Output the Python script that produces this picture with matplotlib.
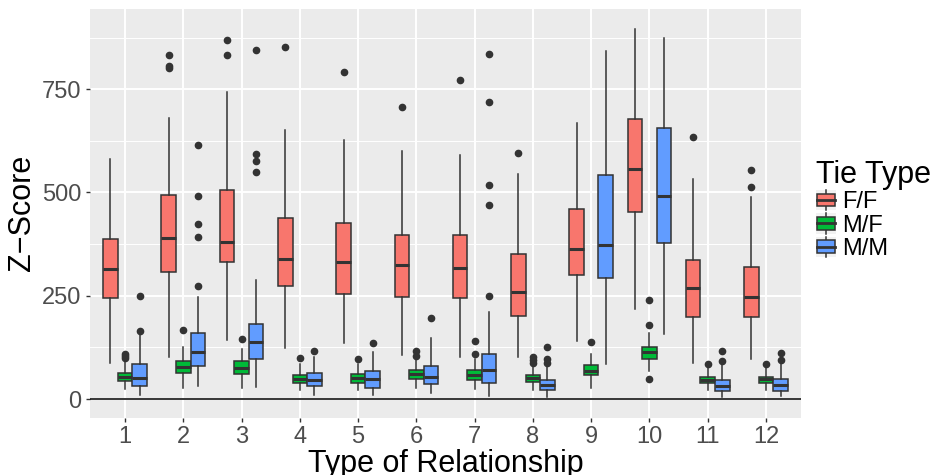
import matplotlib.pyplot as plt
from matplotlib.patches import Patch, Rectangle
from matplotlib.lines import Line2D
from matplotlib.legend_handler import HandlerBase

plt.rcParams['font.family'] = ['Liberation Sans', 'DejaVu Sans']

# Relationship types on the x axis
groups = ['1', '2', '3', '4', '5', '6', '7', '8', '9', '10', '11', '12']
tie_types = ['F/F', 'M/F', 'M/M']
colors = ['#F8766D', '#00BA38', '#619CFF']

# F/F summary stats
ff_whislo = [88, 102, 143, 123, 135, 107, 102, 101, 141, 217, 88, 96]
ff_q1 = [244, 307, 332, 273, 254, 247, 244, 202, 301, 452, 199, 198]
ff_med = [315, 390, 380, 339, 332, 324, 318, 259, 364, 557, 268, 247]
ff_q3 = [388, 494, 507, 439, 427, 398, 398, 352, 460, 678, 337, 320]
ff_whishi = [580, 681, 743, 650, 626, 600, 591, 544, 669, 895, 532, 490]
ff_out = [[], [801, 806, 832], [832, 870], [851], [792], [706], [772], [596],
          [], [], [635], [514, 555]]

# M/F summary stats
mf_whislo = [24, 27, 26, 23, 22, 27, 25, 22, 26, 68, 21, 22]
mf_q1 = [44, 63, 61, 39, 40, 48, 47, 41, 58, 98, 38, 38]
mf_med = [54, 78, 76, 49, 51, 60, 59, 50, 68, 113, 46, 48]
mf_q3 = [64, 93, 93, 59, 60, 70, 71, 59, 82, 127, 53, 54]
mf_whishi = [90, 125, 122, 86, 85, 96, 98, 82, 110, 159, 77, 78]
mf_out = [[99, 104, 109], [168], [146], [99], [98], [104, 117], [109, 140],
          [88, 95, 102], [138], [48, 179, 241], [85], [86]]

# M/M summary stats
mm_whislo = [10, 32, 30, 10, 10, 14, 8, 6, 86, 157, 6, 7]
mm_q1 = [31, 81, 98, 31, 27, 36, 40, 22, 293, 378, 19, 19]
mm_med = [52, 113, 137, 47, 48, 53, 70, 34, 373, 492, 32, 34]
mm_q3 = [84, 159, 181, 64, 69, 81, 110, 47, 542, 655, 47, 48]
mm_whishi = [155, 247, 288, 101, 115, 147, 211, 82, 843, 874, 82, 86]
mm_out = [[166, 250], [274, 392, 423, 491, 614], [550, 576, 592, 845], [117],
          [136], [196], [250, 470, 517, 718, 835], [88, 96, 125], [], [],
          [92, 117], [94, 111]]

series = [
    (ff_whislo, ff_q1, ff_med, ff_q3, ff_whishi, ff_out),
    (mf_whislo, mf_q1, mf_med, mf_q3, mf_whishi, mf_out),
    (mm_whislo, mm_q1, mm_med, mm_q3, mm_whishi, mm_out),
]

edge = '#333333'

fig = plt.figure(figsize=(9.4, 4.75), dpi=100)
ax = fig.add_axes([90 / 940, 1 - 417.7 / 475, 711 / 940, 408.7 / 475])
ax.set_facecolor('#EBEBEB')

# grid
for y in [125, 375, 625, 875]:
    ax.axhline(y, color='white', lw=0.7, zorder=0)
for y in [0, 250, 500, 750]:
    ax.axhline(y, color='white', lw=1.4, zorder=0)
for x in range(1, len(groups) + 1):
    ax.axvline(x, color='white', lw=1.4, zorder=0)

offsets = [-0.25, 0, 0.25]
for k, (lo, q1, med, q3, hi, out) in enumerate(series):
    stats = []
    for i in range(len(groups)):
        stats.append(dict(whislo=lo[i], q1=q1[i], med=med[i], q3=q3[i],
                          whishi=hi[i], fliers=out[i]))
    pos = [i + 1 + offsets[k] for i in range(len(groups))]
    ax.bxp(stats, positions=pos, widths=0.25, patch_artist=True,
           showcaps=False, manage_ticks=False,
           boxprops=dict(facecolor=colors[k], edgecolor=edge, linewidth=1.1),
           medianprops=dict(color=edge, linewidth=2.2),
           whiskerprops=dict(color=edge, linewidth=1.1),
           flierprops=dict(marker='o', markerfacecolor=edge, markeredgecolor=edge,
                           markersize=4.5))

ax.axhline(0, color='black', lw=1.1, zorder=3)

ax.set_xlim(0.4, 12.6)
ax.set_ylim(-45, 944)
ax.set_xticks(range(1, len(groups) + 1))
ax.set_xticklabels(groups)
ax.set_yticks([0, 250, 500, 750])
ax.tick_params(colors=edge, length=3, width=1, labelsize=17, labelcolor='#4D4D4D', pad=3)
for s in ax.spines.values():
    s.set_visible(False)

ax.set_xlabel('Type of Relationship', fontsize=22, labelpad=1)
ax.set_ylabel('Z\u2212Score', fontsize=22, labelpad=4)


class BoxKey(HandlerBase):
    def create_artists(self, legend, orig_handle, xdescent, ydescent,
                       width, height, fontsize, trans):
        x0, y0 = -xdescent, -ydescent
        bg = Rectangle((x0, y0), width, height, facecolor='#F2F2F2',
                       edgecolor='none', transform=trans)
        bw, bh = width * 0.9, height * 0.62
        bx, by = x0 + (width - bw) / 2, y0 + (height - bh) / 2
        box = Rectangle((bx, by), bw, bh, facecolor=orig_handle.get_facecolor(),
                        edgecolor=edge, lw=1.1, transform=trans)
        xm = x0 + width / 2
        w1 = Line2D([xm, xm], [y0, by], color=edge, lw=1.1, transform=trans)
        w2 = Line2D([xm, xm], [by + bh, y0 + height], color=edge, lw=1.1, transform=trans)
        med = Line2D([bx, bx + bw], [y0 + height / 2] * 2, color=edge, lw=2, transform=trans)
        return [bg, w1, w2, box, med]


handles = [Patch(facecolor=c, edgecolor=edge) for c in colors]
leg = fig.legend(handles, tie_types, loc='upper left',
                 bbox_to_anchor=(816 / 940, 1 - 160 / 475),
                 frameon=False, fontsize=17, title='Tie Type', title_fontsize=22,
                 handler_map={Patch: BoxKey()}, handlelength=0.85, handleheight=0.95,
                 labelspacing=0.0, handletextpad=0.25, borderpad=0, borderaxespad=0,
                 alignment='left')

fig.savefig('out.png', dpi=100)
